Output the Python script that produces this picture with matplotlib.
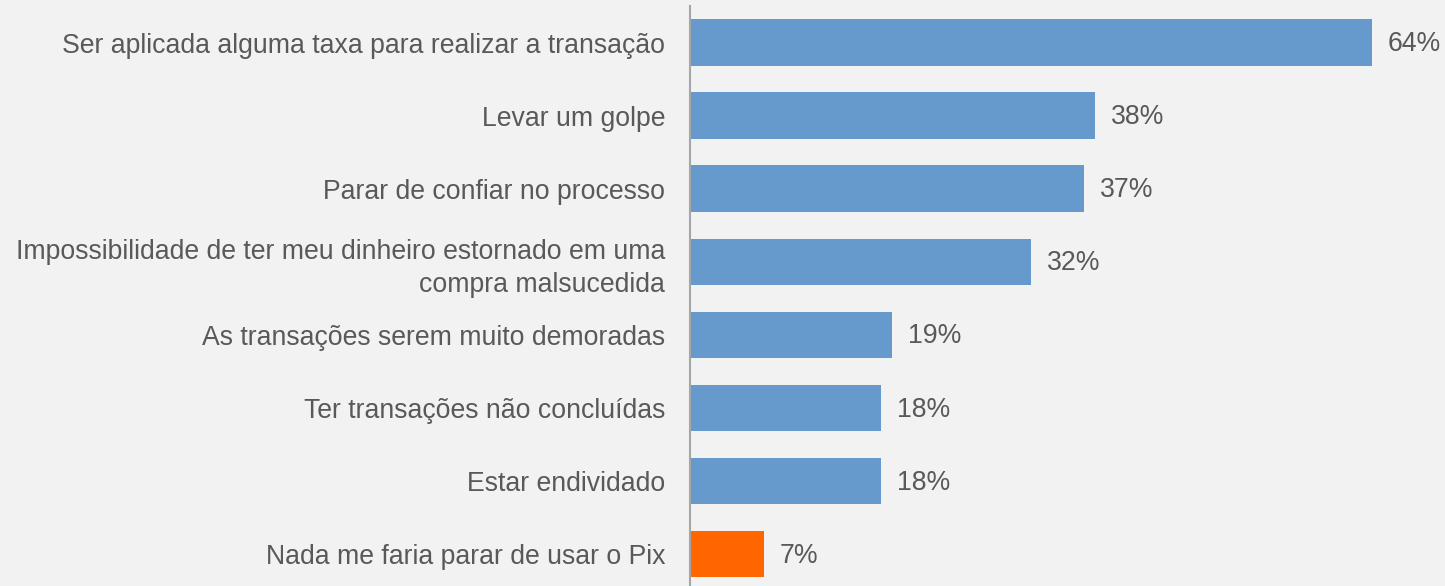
import matplotlib
matplotlib.use("Agg")
import matplotlib.pyplot as plt

categories = [
    "Ser aplicada alguma taxa para realizar a transação",
    "Levar um golpe",
    "Parar de confiar no processo",
    "Impossibilidade de ter meu dinheiro estornado em uma\ncompra malsucedida",
    "As transações serem muito demoradas",
    "Ter transações não concluídas",
    "Estar endividado",
    "Nada me faria parar de usar o Pix",
]
values = [64, 38, 37, 32, 19, 18, 18, 7]
value_labels = ["64%", "38%", "37%", "32%", "19%", "18%", "18%", "7%"]
colors = ["#6699CC"] * 7 + ["#FF6600"]

W, H = 1445, 586
bg = "#F2F2F2"
fs = 19.2
fig = plt.figure(figsize=(W / 100, H / 100), dpi=100, facecolor=bg)
ax_left = 689.5 / W
ax = fig.add_axes([ax_left, 0, 1 - ax_left, (H - 6) / H], facecolor=bg)

ypos = list(range(len(categories)))
ax.barh(ypos, values, height=0.636, color=colors, zorder=2)
spacing = 73.07
ax.set_ylim(-0.5 + (H - 6) / spacing, -0.5)
px_per = 10.66
ax.set_xlim(0, (W - 689.5) / px_per)

for y, v, lab in zip(ypos, values, value_labels):
    ax.annotate(lab, xy=(v, y), xytext=(11.5, -1.2), textcoords="offset points",
                va="center", ha="left", fontsize=fs, color="#595959",
                family="Liberation Sans")

ax.set_yticks(ypos)
ax.set_yticklabels(categories, fontsize=fs, color="#595959", family="Liberation Sans",
                   linespacing=1.35)
ax.tick_params(axis="y", length=0, pad=17.5)
for lbl in ax.get_yticklabels():
    lbl.set_horizontalalignment("right")
ax.set_xticks([])
for s in ["top", "right", "bottom"]:
    ax.spines[s].set_visible(False)
ax.spines["left"].set_color("#A6A6A6")
ax.spines["left"].set_linewidth(1.5)

fig.savefig("out.png", dpi=100, facecolor=bg)
